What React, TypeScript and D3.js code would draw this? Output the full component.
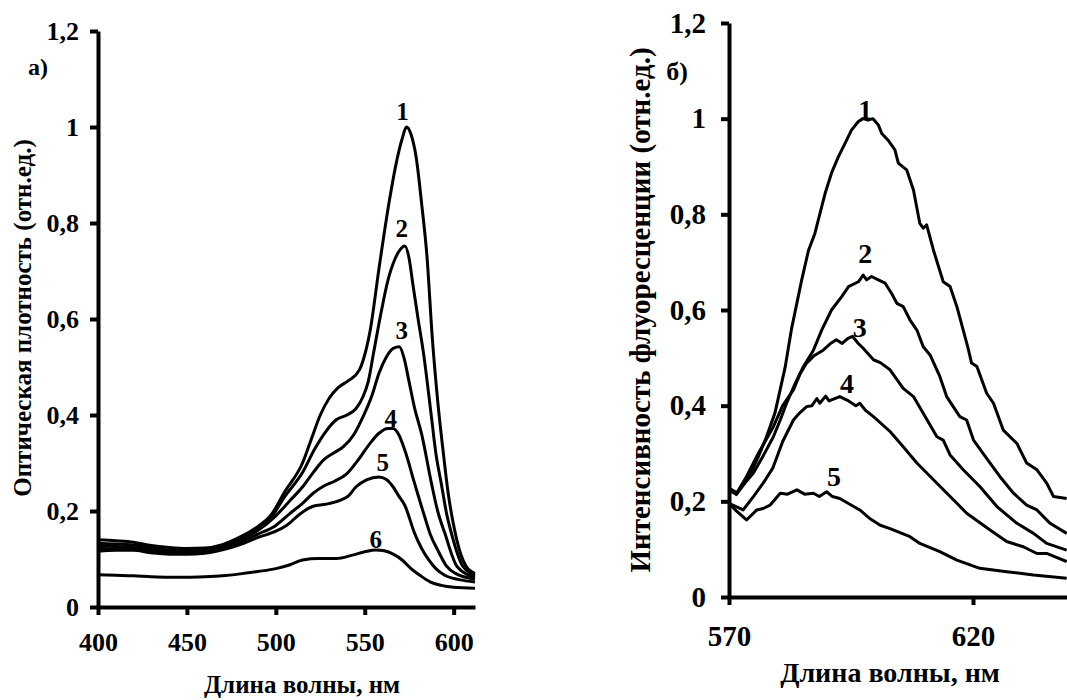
import React, { useEffect, useRef } from "react";
import * as d3 from "d3";

// absorption spectra, panel а)  [wavelength nm, optical density]
const abs1 = [[400,0.14],[410,0.138],[420,0.135],[430,0.128],[440,0.124],[450,0.122],[460,0.123],[470,0.13],[480,0.146],[490,0.168],[497,0.19],[505,0.24],[515,0.3],[520,0.35],[525,0.4],[530,0.435],[535,0.457],[541,0.472],[547,0.494],[551,0.54],[553,0.575],[558,0.705],[564,0.85],[568,0.93],[571,0.975],[573.5,1.0],[576,0.985],[579,0.935],[582,0.84],[585,0.73],[588,0.56],[591,0.43],[594,0.327],[597,0.235],[600,0.17],[604,0.11],[607,0.085],[612,0.07]];
const abs2 = [[400,0.133],[410,0.131],[420,0.129],[430,0.123],[440,0.119],[450,0.118],[460,0.12],[470,0.128],[480,0.144],[490,0.165],[497,0.185],[505,0.23],[515,0.28],[522,0.33],[528,0.365],[534,0.39],[540,0.4],[545,0.413],[549,0.438],[552,0.47],[555,0.53],[559,0.61],[563,0.68],[567,0.725],[570,0.745],[572.5,0.752],[575,0.725],[577,0.674],[580,0.6],[583,0.53],[587.5,0.396],[590,0.32],[593,0.258],[596,0.195],[599,0.15],[605,0.086],[612,0.066]];
const abs3 = [[400,0.127],[410,0.126],[420,0.124],[430,0.118],[440,0.115],[450,0.114],[460,0.116],[470,0.124],[480,0.14],[490,0.16],[500,0.19],[508,0.222],[515,0.25],[521,0.28],[527,0.307],[533,0.322],[538,0.334],[544,0.36],[549,0.396],[554,0.44],[558,0.487],[562,0.52],[566,0.539],[569.5,0.542],[572,0.52],[575,0.468],[578,0.415],[582,0.36],[587.5,0.258],[591,0.2],[595,0.154],[602,0.084],[612,0.062]];
const abs4 = [[400,0.122],[410,0.121],[420,0.12],[430,0.115],[440,0.112],[450,0.112],[460,0.114],[470,0.121],[480,0.135],[490,0.152],[500,0.17],[508,0.195],[515,0.216],[521,0.237],[527,0.252],[533,0.262],[540,0.278],[546,0.305],[553,0.341],[558,0.362],[563,0.372],[566,0.372],[569,0.36],[572.5,0.327],[578,0.258],[583.7,0.188],[587,0.15],[591,0.119],[596,0.085],[601,0.07],[612,0.058]];
const abs5 = [[400,0.116],[410,0.118],[420,0.118],[430,0.113],[440,0.11],[450,0.11],[460,0.112],[470,0.119],[480,0.13],[490,0.145],[500,0.158],[506,0.17],[514,0.195],[521,0.21],[528,0.214],[536,0.222],[541,0.232],[545,0.25],[551,0.265],[558,0.271],[562,0.266],[566,0.25],[569,0.232],[572.5,0.212],[578,0.154],[582,0.122],[586,0.098],[590,0.08],[595,0.066],[603,0.057],[612,0.052]];
const abs6 = [[400,0.067],[410,0.066],[420,0.065],[430,0.063],[440,0.062],[450,0.062],[460,0.063],[470,0.065],[480,0.069],[490,0.074],[500,0.08],[508,0.088],[515,0.098],[524,0.101],[534,0.101],[543,0.108],[550,0.115],[556,0.119],[561,0.117],[566,0.11],[571,0.098],[576,0.08],[581,0.066],[587,0.052],[593,0.045],[600,0.041],[612,0.039]];

// fluorescence spectra, panel б)  [wavelength nm, intensity]
const fl1 = [[570,0.225],[571.5,0.214],[573,0.235],[574.5,0.26],[576,0.293],[577.5,0.33],[579.4,0.384],[581.5,0.48],[582.8,0.56],[584.9,0.663],[586.3,0.725],[587.6,0.76],[589,0.816],[589.7,0.844],[591,0.886],[592.4,0.92],[593.8,0.949],[595.1,0.976],[596.5,0.994],[597.5,1.0],[598.5,0.997],[599.5,1.0],[600.6,0.987],[601.3,0.969],[602.6,0.955],[604,0.935],[604.7,0.907],[606.4,0.893],[607.8,0.851],[609.1,0.781],[609.8,0.771],[610.5,0.778],[611.9,0.725],[613.9,0.659],[615.3,0.649],[616.7,0.607],[619,0.52],[619.7,0.489],[620.8,0.482],[622.8,0.426],[624.2,0.405],[626.2,0.349],[629,0.321],[631,0.28],[633.1,0.266],[635.1,0.238],[636.5,0.21],[639.2,0.206]];
const fl2 = [[570,0.228],[571.6,0.218],[573,0.235],[575,0.259],[577,0.295],[579.1,0.335],[580.5,0.37],[581.8,0.405],[583.5,0.445],[585.2,0.481],[587.3,0.516],[589,0.558],[591,0.6],[593.1,0.628],[594.5,0.649],[596.5,0.659],[597.5,0.673],[598.2,0.663],[599.2,0.67],[600.6,0.663],[602,0.656],[603.3,0.635],[604.4,0.614],[605.7,0.607],[607.1,0.579],[608.5,0.558],[609.8,0.523],[611.2,0.506],[613.2,0.461],[614.6,0.419],[617.3,0.377],[618.7,0.37],[620.1,0.328],[623.5,0.28],[625.5,0.252],[628.3,0.217],[631,0.192],[633.1,0.182],[635.8,0.154],[639.2,0.133]];
const fl3 = [[570,0.222],[571.5,0.216],[573.6,0.252],[576,0.3],[579.1,0.356],[581,0.4],[583.2,0.433],[584.5,0.465],[585.9,0.489],[587.5,0.505],[589.3,0.516],[590.8,0.53],[592,0.538],[593.2,0.53],[594.3,0.54],[595.3,0.545],[596.5,0.53],[597.5,0.52],[599.6,0.496],[601,0.49],[603,0.475],[605.7,0.436],[607.8,0.419],[609.8,0.384],[612.6,0.335],[613.9,0.328],[615.3,0.297],[618,0.266],[621.4,0.231],[624.9,0.189],[629,0.154],[632.4,0.133],[635.1,0.112],[639.2,0.098]];
const fl4 = [[570,0.196],[572.9,0.182],[575,0.21],[577,0.238],[579,0.27],[581,0.325],[583.2,0.37],[584.5,0.385],[585.9,0.398],[587,0.4],[588,0.415],[588.6,0.405],[589.8,0.42],[590.5,0.41],[592.7,0.419],[594.5,0.41],[596,0.4],[596.8,0.405],[598,0.39],[599.6,0.377],[603,0.346],[605.7,0.314],[608.5,0.28],[611.9,0.245],[616.7,0.196],[618.7,0.175],[623.5,0.14],[626.9,0.116],[630.3,0.105],[633.1,0.091],[635.1,0.091],[639.2,0.074]];
const fl5 = [[570,0.196],[571.5,0.18],[573.6,0.161],[575.7,0.182],[577,0.185],[578.4,0.192],[580.5,0.217],[582,0.215],[583.9,0.224],[585.5,0.215],[587.3,0.217],[588.5,0.21],[590,0.22],[591.2,0.21],[592.7,0.206],[596.8,0.182],[599,0.163],[601,0.15],[603,0.143],[607.1,0.126],[609.1,0.112],[613.2,0.095],[616.7,0.077],[621.4,0.06],[626.9,0.053],[632.4,0.046],[639.2,0.039]];

// curve number labels [number, wavelength, value at baseline]
const absLabels = [["1",571.3,1.015],["2",570.8,0.771],["3",570.8,0.558],["4",564.6,0.375],["5",560.1,0.283],["6",556.2,0.123]];
const flLabels = [["1",597.9,1.0],["2",597.9,0.698],["3",596.8,0.544],["4",594.2,0.427],["5",591.5,0.232]];

const yTicks = [0, 0.2, 0.4, 0.6, 0.8, 1, 1.2];
const absXTicks = [400, 450, 500, 550, 600];
const flXTicks = [570, 620];

const fmt = (d) => (d === 0 ? "0" : d === 1 ? "1" : d.toFixed(1).replace(".", ","));
const FONT = "'Liberation Serif', 'Times New Roman', serif";

function drawPanel(svg, p) {
  const x = d3.scaleLinear().domain(p.xDomain).range(p.xRange);
  const y = d3.scaleLinear().domain([0, 1.2]).range(p.yRange);
  const g = svg.append("g");

  const yAxis = g.append("g")
    .attr("transform", `translate(${p.xRange[0]},0)`)
    .call(d3.axisLeft(y).tickValues(yTicks).tickFormat(fmt).tickSize(8).tickSizeOuter(0).tickPadding(p.yPad));
  const xAxis = g.append("g")
    .attr("transform", `translate(0,${p.yRange[0]})`)
    .call(d3.axisBottom(x).tickValues(p.xTicks).tickSize(8).tickSizeOuter(0).tickPadding(p.xPad));

  [yAxis, xAxis].forEach((a) => {
    a.select(".domain").attr("stroke", "#000").attr("stroke-width", 4);
    a.selectAll(".tick line").attr("stroke", "#000").attr("stroke-width", 4);
    a.selectAll("text")
      .attr("fill", "#000")
      .style("font-family", FONT)
      .style("font-weight", "bold")
      .style("font-size", `${p.tickFont}px`);
  });

  const line = d3.line()
    .x((d) => x(d[0]))
    .y((d) => y(d[1]))
    .curve(p.curve);

  g.selectAll("path.spec")
    .data(p.series)
    .enter()
    .append("path")
    .attr("class", "spec")
    .attr("d", line)
    .attr("fill", "none")
    .attr("stroke", "#000")
    .attr("stroke-width", 3)
    .attr("stroke-linejoin", "round");

  g.selectAll("text.num")
    .data(p.labels)
    .enter()
    .append("text")
    .attr("class", "num")
    .attr("x", (d) => x(d[1]))
    .attr("y", (d) => y(d[2]))
    .attr("text-anchor", "middle")
    .style("font-family", FONT)
    .style("font-weight", "bold")
    .style("font-size", `${p.labelFont}px`)
    .text((d) => d[0]);

  g.append("text")
    .attr("x", p.xTitle[0])
    .attr("y", p.xTitle[1])
    .attr("text-anchor", "middle")
    .attr("dominant-baseline", "central")
    .style("font-family", FONT)
    .style("font-weight", "bold")
    .style("font-size", `${p.titleFont}px`)
    .text("Длина волны, нм");

  g.append("text")
    .attr("transform", `translate(${p.yTitle[0]},${p.yTitle[1]}) rotate(-90)`)
    .attr("text-anchor", "middle")
    .attr("dominant-baseline", "central")
    .style("font-family", FONT)
    .style("font-weight", "bold")
    .style("font-size", `${p.yTitleFont}px`)
    .text(p.yLabel);

  g.append("text")
    .attr("x", p.tag[0])
    .attr("y", p.tag[1])
    .attr("text-anchor", "middle")
    .attr("dominant-baseline", "central")
    .style("font-family", FONT)
    .style("font-weight", "bold")
    .style("font-size", `${p.tagFont}px`)
    .text(p.tagText);
}

const App = () => {
  const svgRef = useRef(null);

  useEffect(() => {
    const svg = d3.select(svgRef.current);
    svg.selectAll("*").remove();

    drawPanel(svg, {
      xDomain: [400, 612],
      xRange: [98, 475],
      yRange: [607, 31],
      xTicks: absXTicks,
      series: [abs1, abs2, abs3, abs4, abs5, abs6],
      labels: absLabels,
      curve: d3.curveMonotoneX,
      yPad: 11,
      xPad: 18,
      tickFont: 26,
      labelFont: 25,
      titleFont: 25,
      yTitleFont: 25,
      xTitle: [302, 684],
      yTitle: [22, 318],
      yLabel: "Оптическая плотность (отн.ед.)",
      tag: [38, 67],
      tagFont: 24,
      tagText: "а)",
    });

    drawPanel(svg, {
      xDomain: [570, 640],
      xRange: [729, 729 + 70 * 4.88],
      yRange: [597, 23],
      xTicks: flXTicks,
      series: [fl1, fl2, fl3, fl4, fl5],
      labels: flLabels,
      curve: d3.curveLinear,
      yPad: 15,
      xPad: 20,
      tickFont: 29,
      labelFont: 28,
      titleFont: 28,
      yTitleFont: 29,
      xTitle: [890, 672],
      yTitle: [640, 310],
      yLabel: "Интенсивность флуоресценции (отн.ед.)",
      tag: [677, 71],
      tagFont: 26,
      tagText: "б)",
    });
  }, []);

  return (
    <svg
      ref={svgRef}
      width={1067}
      height={700}
      style={{ position: "absolute", left: 0, top: 0, background: "#fff" }}
    />
  );
};

export default App;
